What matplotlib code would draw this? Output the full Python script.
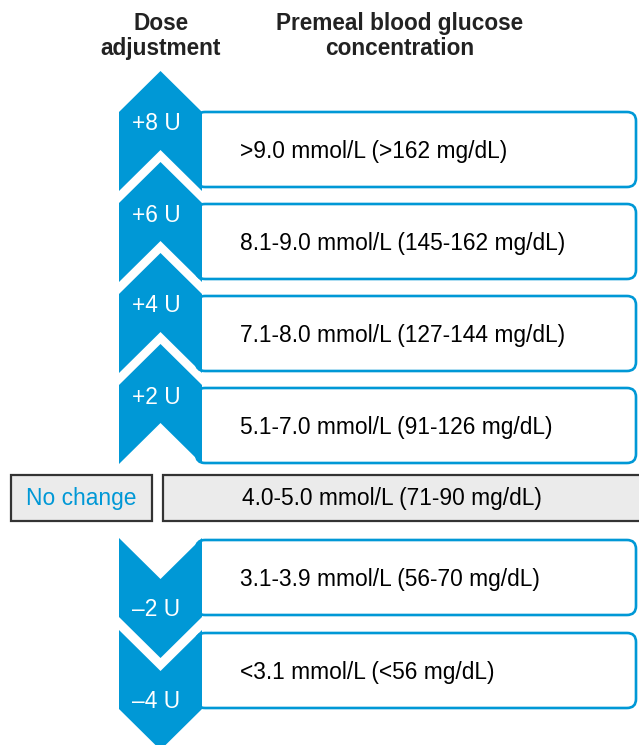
import matplotlib
matplotlib.use("Agg")
import matplotlib.pyplot as plt
from matplotlib.patches import Polygon, FancyBboxPatch, Rectangle

plt.rcParams['font.family'] = ['Liberation Sans', 'DejaVu Sans']

# data
up_doses = ["+8 U", "+6 U", "+4 U", "+2 U"]
up_ranges = [">9.0 mmol/L (>162 mg/dL)",
             "8.1-9.0 mmol/L (145-162 mg/dL)",
             "7.1-8.0 mmol/L (127-144 mg/dL)",
             "5.1-7.0 mmol/L (91-126 mg/dL)"]
neutral_dose = "No change"
neutral_range = "4.0-5.0 mmol/L (71-90 mg/dL)"
down_doses = ["\u20132 U", "\u20134 U"]
down_ranges = ["3.1-3.9 mmol/L (56-70 mg/dL)",
               "<3.1 mmol/L (<56 mg/dL)"]

blue = "#0098d6"
gray_fill = "#ebebeb"
gray_edge = "#333333"

fig = plt.figure(figsize=(6.39, 7.45), dpi=100)
ax = fig.add_axes([0, 0, 1, 1])
ax.set_xlim(0, 639)
ax.set_ylim(745, 0)
ax.axis("off")

# column geometry (pixel units)
x0, x1 = 119, 202
xc = (x0 + x1) / 2
d = 41
seg_h = 79
box_h = 75
box_left, box_right = 196, 636
fs = 16.4


def range_box(top, text):
    ax.add_patch(FancyBboxPatch((box_left, top), box_right - box_left, box_h,
                                boxstyle="round,pad=0,rounding_size=9",
                                fc="white", ec=blue, lw=1.9, zorder=1))
    ax.text(240, top + box_h / 2 + 2, text, fontsize=fs, ha="left",
            va="center", color="black", zorder=3)


# increase rows
for i, (dose, rng) in enumerate(zip(up_doses, up_ranges)):
    yt = 112 + 91 * i
    yb = yt + seg_h
    ax.add_patch(Polygon([(x0, yt), (xc, yt - d), (x1, yt), (x1, yb),
                          (xc, yb - d), (x0, yb)], closed=True,
                         fc=blue, ec="none", zorder=2))
    ax.text(156, yt + 12, dose, fontsize=fs, color="white", ha="center",
            va="center", zorder=3)
    range_box(112 + 92 * i, rng)

# no change row
ax.add_patch(Rectangle((11, 475), 141, 46, fc=gray_fill, ec=gray_edge,
                       lw=1.6, zorder=1))
ax.text(81, 498, neutral_dose, fontsize=fs, color=blue, ha="center",
        va="center", zorder=3)
ax.add_patch(Rectangle((163, 475), 490, 46, fc=gray_fill, ec=gray_edge,
                       lw=1.6, zorder=1, clip_on=True))
ax.text(392, 498, neutral_range, fontsize=fs, color="black", ha="center",
        va="center", zorder=3)

# decrease rows
for i, (dose, rng) in enumerate(zip(down_doses, down_ranges)):
    yt = 538 + 92 * i
    yb = yt + seg_h
    ax.add_patch(Polygon([(x0, yt), (xc, yt + d), (x1, yt), (x1, yb),
                          (xc, yb + d), (x0, yb)], closed=True,
                         fc=blue, ec="none", zorder=2))
    ax.text(156, yb - 8, dose, fontsize=fs, color="white", ha="center",
            va="center", zorder=3)
    range_box(540 + 93 * i, rng)

# headers
ax.text(161, 36, "Dose\nadjustment", fontsize=16.3, fontweight="bold",
        color="#222222", ha="center", va="center", linespacing=1.1)
ax.text(400, 36, "Premeal blood glucose\nconcentration", fontsize=16.3,
        fontweight="bold", color="#222222", ha="center", va="center",
        linespacing=1.1)

fig.savefig("out.png", dpi=100)
